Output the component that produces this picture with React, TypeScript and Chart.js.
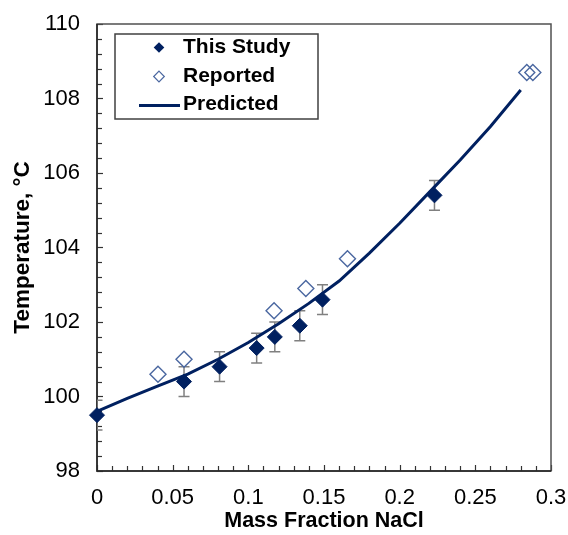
import React, { useEffect, useRef } from "react";
import { Chart, registerables } from "chart.js";

Chart.register(...registerables);

// ---- data ----
const studyX = [0, 0.0575, 0.081, 0.1055, 0.1175, 0.134, 0.149, 0.223];
const studyY = [99.5, 100.4, 100.8, 101.3, 101.6, 101.9, 102.6, 105.4];
const studyErr = [0.4, 0.4, 0.4, 0.4, 0.4, 0.4, 0.4, 0.4];

const reportedX = [0.0403, 0.0575, 0.117, 0.138, 0.1655, 0.284, 0.288];
const reportedY = [100.6, 101.0, 102.3, 102.9, 103.7, 108.7, 108.7];

const predX = [0, 0.02, 0.04, 0.06, 0.08, 0.1, 0.12, 0.14, 0.16, 0.18, 0.2, 0.22, 0.24, 0.26, 0.28];
const predY = [99.6, 99.95, 100.28, 100.6, 101.0, 101.45, 101.95, 102.5, 103.1, 103.85, 104.65, 105.5, 106.35, 107.25, 108.23];

const xTickLabels = ["0", "0.05", "0.1", "0.15", "0.2", "0.25", "0.3"];
const yTickLabels = ["98", "100", "102", "104", "106", "108", "110"];

const seriesNames = ["This Study", "Reported", "Predicted"];
const xTitle = "Mass Fraction NaCl";
const yTitle = "Temperature, \u00B0C";

// ---- styles ----
const NAVY = "#002060";
const OPEN = "#4a67a0";
const ERR = "#808080";
const FONT = "'Liberation Sans', Arial, sans-serif";

const W = 568;
const H = 535;

const framePlugin = {
  id: "frame",
  beforeDatasetsDraw(chart: any) {
    const { ctx, chartArea: a, scales } = chart;
    ctx.save();
    // inward minor/major ticks
    ctx.strokeStyle = "#333";
    ctx.lineWidth = 1.2;
    const ys = scales.y;
    for (let v = 98; v <= 110.001; v += 0.4) {
      const p = Math.round(ys.getPixelForValue(v)) + 0.5;
      const major = Math.abs(v / 2 - Math.round(v / 2)) < 1e-6;
      ctx.beginPath();
      ctx.moveTo(a.left, p);
      ctx.lineTo(a.left + (major ? 6 : 5), p);
      ctx.stroke();
    }
    const xs = scales.x;
    for (let i = 0; i <= 30; i++) {
      const v = i * 0.01;
      const p = Math.round(xs.getPixelForValue(v)) + 0.5;
      ctx.beginPath();
      ctx.moveTo(p, a.bottom);
      ctx.lineTo(p, a.bottom - (i % 5 === 0 ? 6 : 5));
      ctx.stroke();
    }
    // frame
    ctx.strokeStyle = "#505050";
    ctx.lineWidth = 1.5;
    ctx.strokeRect(a.left, a.top, a.right - a.left, a.bottom - a.top);
    ctx.strokeStyle = "#222";
    ctx.beginPath();
    ctx.moveTo(a.left, a.top);
    ctx.lineTo(a.left, a.bottom);
    ctx.lineTo(a.right, a.bottom);
    ctx.stroke();

    // error bars
    ctx.strokeStyle = ERR;
    ctx.lineWidth = 1.5;
    ctx.beginPath();
    ctx.rect(a.left, a.top, a.right - a.left, a.bottom - a.top);
    ctx.clip();
    for (let i = 0; i < studyX.length; i++) {
      const px = xs.getPixelForValue(studyX[i]);
      const top = ys.getPixelForValue(studyY[i] + studyErr[i]);
      const bot = ys.getPixelForValue(studyY[i] - studyErr[i]);
      ctx.beginPath();
      ctx.moveTo(px, top);
      ctx.lineTo(px, bot);
      ctx.moveTo(px - 5.5, top);
      ctx.lineTo(px + 5.5, top);
      ctx.moveTo(px - 5.5, bot);
      ctx.lineTo(px + 5.5, bot);
      ctx.stroke();
    }
    ctx.restore();
  },
};

const legendPlugin = {
  id: "customLegend",
  afterDraw(chart: any) {
    const { ctx } = chart;
    ctx.save();
    const bx = 115, by = 34, bw = 203, bh = 85;
    ctx.fillStyle = "#fff";
    ctx.fillRect(bx, by, bw, bh);
    ctx.strokeStyle = "#404040";
    ctx.lineWidth = 1.5;
    ctx.strokeRect(bx, by, bw, bh);
    const rows = [47.5, 76.5, 104];
    const mx = 159;
    const diamond = (cx: number, cy: number, r: number) => {
      ctx.beginPath();
      ctx.moveTo(cx, cy - r);
      ctx.lineTo(cx + r, cy);
      ctx.lineTo(cx, cy + r);
      ctx.lineTo(cx - r, cy);
      ctx.closePath();
    };
    diamond(mx, rows[0], 5.3);
    ctx.fillStyle = NAVY;
    ctx.fill();
    diamond(mx, rows[1], 5.3);
    ctx.strokeStyle = OPEN;
    ctx.lineWidth = 1.2;
    ctx.stroke();
    ctx.strokeStyle = NAVY;
    ctx.lineWidth = 3;
    ctx.beginPath();
    ctx.moveTo(139, rows[2] + 1.5);
    ctx.lineTo(180, rows[2] + 1.5);
    ctx.stroke();
    ctx.fillStyle = "#000";
    ctx.font = "bold 21px " + FONT;
    ctx.textBaseline = "middle";
    ctx.textAlign = "left";
    seriesNames.forEach((n, i) => ctx.fillText(n, 183, rows[i]));
    ctx.restore();
  },
};

const zeroPad = (s: any) => {
  s.paddingTop = 0;
  s.paddingBottom = 0;
  s.paddingLeft = 0;
  s.paddingRight = 0;
};

export default function App() {
  const ref = useRef<HTMLCanvasElement>(null);
  useEffect(() => {
    const chart = new Chart(ref.current as HTMLCanvasElement, {
      type: "scatter",
      data: {
        datasets: [
          {
            type: "line",
            label: seriesNames[2],
            data: predX.map((x, i) => ({ x, y: predY[i] })),
            borderColor: NAVY,
            borderWidth: 3,
            pointRadius: 0,
            fill: false,
            tension: 0,
            order: 0,
          } as any,
          {
            label: seriesNames[0],
            data: studyX.map((x, i) => ({ x, y: studyY[i] })),
            pointStyle: "rectRot",
            pointRadius: 7.5,
            backgroundColor: NAVY,
            borderColor: NAVY,
            borderWidth: 1,
            clip: false,
            order: 1,
          },
          {
            label: seriesNames[1],
            data: reportedX.map((x, i) => ({ x, y: reportedY[i] })),
            pointStyle: "rectRot",
            pointRadius: 8,
            backgroundColor: "rgba(255,255,255,0)",
            borderColor: OPEN,
            borderWidth: 1.4,
            clip: false,
            order: 2,
          },
        ],
      },
      options: {
        responsive: false,
        animation: false,
        devicePixelRatio: 1,
        layout: { padding: { left: 0, right: 17, top: 24, bottom: 0 } },
        plugins: { legend: { display: false }, tooltip: { enabled: false } },
        scales: {
          x: {
            type: "linear",
            min: 0,
            max: 0.3,
            afterFit: (s: any) => {
              s.height = 64;
              zeroPad(s);
            },
            afterBuildTicks: (s: any) => {
              s.ticks = xTickLabels.map((t) => ({ value: parseFloat(t) }));
            },
            ticks: {
              padding: 14,
              color: "#000",
              font: { family: FONT, size: 22 },
              callback: (v: any, i: number) => xTickLabels[i],
              maxRotation: 0,
            },
            grid: { display: false, drawTicks: false },
            border: { display: false },
            title: {
              display: true,
              text: xTitle,
              color: "#000",
              font: { family: FONT, size: 21.5, weight: "bold" },
              padding: { top: 0, bottom: 1 },
            },
          },
          y: {
            type: "linear",
            min: 98,
            max: 110,
            afterFit: (s: any) => {
              s.width = 97;
              zeroPad(s);
            },
            afterBuildTicks: (s: any) => {
              s.ticks = yTickLabels.map((t) => ({ value: parseFloat(t) }));
            },
            ticks: {
              padding: 17,
              color: "#000",
              font: { family: FONT, size: 22 },
              callback: (v: any, i: number) => yTickLabels[i],
            },
            grid: { display: false, drawTicks: false },
            border: { display: false },
            title: {
              display: true,
              text: yTitle,
              color: "#000",
              font: { family: FONT, size: 22.5, weight: "bold" },
              padding: { top: 9, bottom: 0 },
            },
          },
        },
      },
      plugins: [framePlugin, legendPlugin],
    } as any);
    return () => chart.destroy();
  }, []);
  return (
    <div style={{ position: "fixed", left: 0, top: 0, width: W, height: H, background: "#fff" }}>
      <canvas ref={ref} width={W} height={H} style={{ width: W, height: H, display: "block" }} />
    </div>
  );
}
